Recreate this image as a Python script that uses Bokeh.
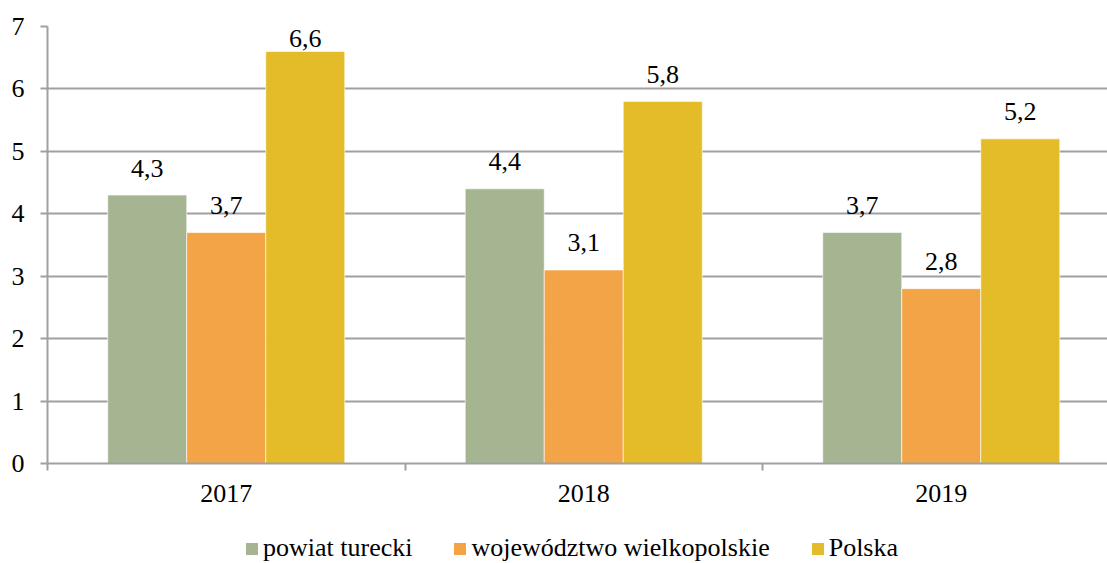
from bokeh.plotting import figure
from bokeh.layouts import column
from bokeh.models import Range1d, FixedTicker, Legend, LegendItem, ColumnDataSource
from bokeh.core.properties import value
from bokeh.embed import file_html
from bokeh.resources import INLINE

years = ["2017", "2018", "2019"]
series_names = ["powiat turecki", "województwo wielkopolskie", "Polska"]
powiat = [4.3, 4.4, 3.7]
wojewodztwo = [3.7, 3.1, 2.8]
polska = [6.6, 5.8, 5.2]
colors = ["#A5B592", "#F3A447", "#E4BC2A"]

FONT = "Liberation Serif"
FS = "26px"
GRID = "#A0A0A0"
YMAX = 7

p = figure(width=1107, height=515, output_backend="svg", toolbar_location=None,
           x_range=Range1d(0, 2.965), y_range=Range1d(0, YMAX),
           min_border_left=47, min_border_right=0, min_border_top=26, min_border_bottom=52)
p.outline_line_color = None
p.background_fill_color = "white"

bw = 0.221
offsets = [-bw, 0.0, bw]
for vals, off, col in zip([powiat, wojewodztwo, polska], offsets, colors):
    xs = [i + 0.5 + off for i in range(len(years))]
    labels = [f"{v:.1f}".replace(".", ",") for v in vals]
    # labels close to the top of the plot area are pulled down (as in the original)
    yoff = [-27 if v < YMAX - 0.6 else -13 for v in vals]
    src = ColumnDataSource(dict(x=xs, top=vals, lab=labels, yoff=yoff))
    p.vbar(x="x", top="top", width=bw, bottom=0, source=src, fill_color=col,
           line_color="white", line_alpha=0.6, line_width=1)
    p.text(x="x", y="top", text="lab", source=src, text_align="center",
           text_baseline="alphabetic", y_offset="yoff", text_font=value(FONT),
           text_font_size=FS, text_color="black")

# y axis
p.yaxis.ticker = FixedTicker(ticks=list(range(0, YMAX + 1)))
p.yaxis.axis_line_color = GRID
p.yaxis.axis_line_width = 2
p.yaxis.major_tick_line_color = GRID
p.yaxis.major_tick_line_width = 2
p.yaxis.major_tick_in = 0
p.yaxis.major_tick_out = 7
p.yaxis.minor_tick_line_color = None
p.yaxis.major_label_standoff = 16
p.yaxis.major_label_text_font = FONT
p.yaxis.major_label_text_font_size = FS
p.yaxis.major_label_text_color = "black"

# x axis
p.xaxis.ticker = FixedTicker(ticks=[i + 0.5 for i in range(len(years))],
                             minor_ticks=list(range(0, len(years) + 1)))
p.xaxis.major_label_overrides = {i + 0.5: y for i, y in enumerate(years)}
p.xaxis.axis_line_color = GRID
p.xaxis.axis_line_width = 2
p.xaxis.major_tick_line_color = None
p.xaxis.major_tick_in = 0
p.xaxis.major_tick_out = 7
p.xaxis.minor_tick_line_color = GRID
p.xaxis.minor_tick_line_width = 2
p.xaxis.minor_tick_in = 0
p.xaxis.minor_tick_out = 7
p.xaxis.major_label_standoff = 14
p.xaxis.major_label_text_font = FONT
p.xaxis.major_label_text_font_size = FS
p.xaxis.major_label_text_color = "black"

p.xgrid.grid_line_color = None
p.ygrid.ticker = FixedTicker(ticks=list(range(0, YMAX + 1)))
p.ygrid.grid_line_color = GRID
p.ygrid.grid_line_width = 2

# legend strip below the chart
lg = figure(width=1107, height=48, output_backend="svg", toolbar_location=None,
            x_range=Range1d(0, 1), y_range=Range1d(0, 1),
            x_axis_location=None, y_axis_location=None,
            min_border_left=0, min_border_right=0, min_border_top=0, min_border_bottom=0)
lg.grid.visible = False
lg.outline_line_color = None
items = []
for name, col in zip(series_names, colors):
    # zero-size placeholder renderer, only used to draw the legend swatch
    r = lg.vbar(x=[0], top=[0], bottom=0, width=0, fill_color=col, line_color=None)
    items.append(LegendItem(label=name, renderers=[r]))

legend = Legend(items=items, orientation="horizontal", location=(197, 0),
                label_text_font=FONT, label_text_font_size=FS, label_text_color="black",
                glyph_width=15, glyph_height=15, label_standoff=4, spacing=40,
                padding=0, margin=0, border_line_color=None, background_fill_alpha=0)
lg.add_layout(legend)

layout = column(p, lg, spacing=0)
open("out.html", "w").write(file_html(layout, INLINE))
